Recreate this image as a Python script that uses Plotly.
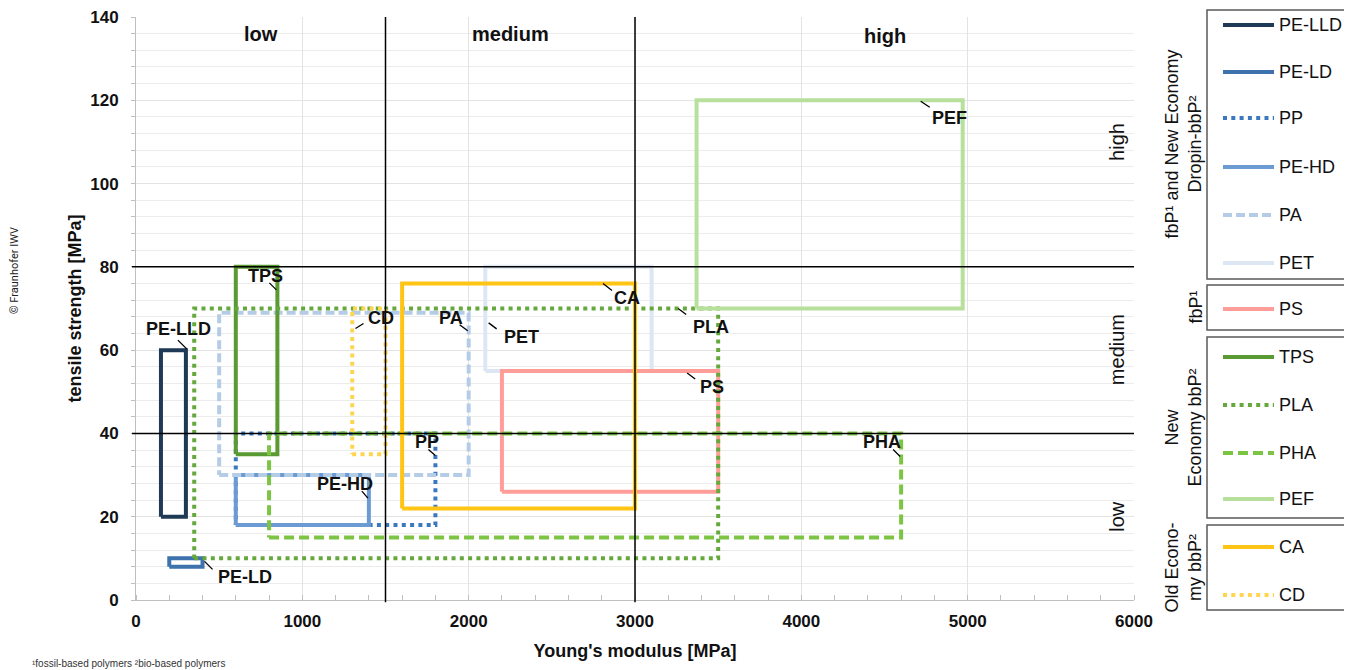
import plotly.graph_objects as go

# ---------------- data ----------------
materials = ["PE-LLD", "PE-LD", "PP", "PE-HD", "PA", "PET", "PS",
             "TPS", "PLA", "PHA", "PEF", "CA", "CD"]
modulus_min = [150, 200, 600, 600, 500, 2100, 2200, 600, 350, 800, 3370, 1600, 1300]
modulus_max = [300, 400, 1800, 1400, 2000, 3100, 3500, 850, 3500, 4600, 4970, 3000, 1500]
strength_min = [20, 8, 18, 18, 30, 55, 26, 35, 10, 15, 70, 22, 35]
strength_max = [60, 10, 40, 30, 69, 80, 55, 80, 70, 40, 120, 76, 70]

class_names = ["low", "medium", "high"]
modulus_bounds = [0, 1500, 3000, 6000]
strength_bounds = [0, 40, 80, 140]

legend_groups = [
    ("fbP¹ and New Economy<br>Dropin-bbP²", ["PE-LLD", "PE-LD", "PP", "PE-HD", "PA", "PET"]),
    ("fbP¹", ["PS"]),
    ("New<br>Economy bbP²", ["TPS", "PLA", "PHA", "PEF"]),
    ("Old Econo-<br>my bbP²", ["CA", "CD"]),
]

x_ticks = [0, 1000, 2000, 3000, 4000, 5000, 6000]
y_ticks = [0, 20, 40, 60, 80, 100, 120, 140]

# ---------------- styles ----------------
DOT = "4px,4.3px"
styles = {
    "PE-LLD": dict(color="#1e3a56", dash="solid"),
    "PE-LD": dict(color="#3e72ac", dash="solid"),
    "PP": dict(color="#3b78be", dash=DOT),
    "PE-HD": dict(color="#6b9bd2", dash="solid"),
    "PA": dict(color="#b5cce6", dash="9px,4px"),
    "PET": dict(color="#dde7f3", dash="solid"),
    "PS": dict(color="#ff9e99", dash="solid"),
    "TPS": dict(color="#5a9a32", dash="solid"),
    "PLA": dict(color="#65a83c", dash=DOT),
    "PHA": dict(color="#7cc443", dash="10px,5px"),
    "PEF": dict(color="#b7e09c", dash="solid"),
    "CA": dict(color="#ffc414", dash="solid"),
    "CD": dict(color="#ffd54f", dash=DOT),
}

# label placement relative to rectangle's upper-right corner (screen px, y down):
# leader start (far end), leader end (near label), text centre
label_place = {
    "PE-LLD": ((1, -1), (-8, -10), (-7, -20)),
    "TPS": ((-1, 23), (-8, 16), (-12, 10)),
    "CD": ((-30, 20), (-22, 15), (-5, 10)),
    "PA": ((-1, 18), (-9, 12), (-18, 6)),
    "PET": ((-163, 56), (-155, 62), (-130, 71)),
    "CA": ((-32, 0), (-23, 7), (-8, 15)),
    "PLA": ((-40, 0), (-32, 6), (-7, 19)),
    "PS": ((-31, 2), (-23, 8), (-6, 17)),
    "PP": ((0, 22), (-7, 16), (-8, 10)),
    "PE-HD": ((-1, 23), (-7, 16), (-24, 10)),
    "PE-LD": ((2, 3), (10, 11), (42, 20)),
    "PHA": ((-1, 23), (-8, 16), (-19, 10)),
    "PEF": ((-42, 1), (-33, 7), (-13, 19)),
}

OFF = 8                      # page offset of the figure inside the browser window
W, H = 1352 - OFF, 670 - OFF
Ls, Rs, Ts, Bs = 136, 1134, 17, 600   # plot area in screen pixels
L, R, T, B = Ls - OFF, Rs - OFF, Ts - OFF, Bs - OFF


def pxx(xs):
    return (xs - Ls) / (Rs - Ls)


def pxy(ys):
    return (Bs - ys) / (Bs - Ts)


FONT = "Liberation Sans, Arial, sans-serif"

fig = go.Figure()

# rectangles
for i, m in enumerate(materials):
    x0, x1 = modulus_min[i], modulus_max[i]
    y0, y1 = strength_min[i], strength_max[i]
    st = styles[m]
    fig.add_trace(go.Scatter(
        x=[x0, x1, x1, x0, x0], y=[y0, y0, y1, y1, y0],
        mode="lines", name=m, showlegend=False, hoverinfo="skip",
        line=dict(color=st["color"], width=4, dash=st["dash"]),
    ))

shapes = []
annotations = []

# class boundary lines
for xb in modulus_bounds[1:-1]:
    shapes.append(dict(type="line", xref="x", yref="paper", x0=xb, x1=xb, y0=-0.004, y1=1,
                       line=dict(color="black", width=1.5), layer="above"))
for yb in strength_bounds[1:-1]:
    shapes.append(dict(type="line", xref="paper", yref="y", x0=-0.004, x1=1, y0=yb, y1=yb,
                       line=dict(color="black", width=1.5), layer="above"))

# class labels
for k, name in enumerate(class_names):
    xc = (modulus_bounds[k] + modulus_bounds[k + 1]) / 2
    annotations.append(dict(x=xc, y=strength_bounds[-1], xref="x", yref="y", text=name,
                            showarrow=False, yshift=-17 if k < 2 else -19,
                            xanchor="center", yanchor="middle",
                            font=dict(family=FONT, size=20, weight="bold", color="#111")))
    yc = (strength_bounds[k] + strength_bounds[k + 1]) / 2
    annotations.append(dict(x=pxx(1117), y=yc, xref="paper", yref="y", text=name,
                            showarrow=False, textangle=-90, xanchor="center", yanchor="middle",
                            font=dict(family=FONT, size=20, color="#111")))

# data labels with leader lines
for i, m in enumerate(materials):
    (sx, sy), (ex, ey), (tx, ty) = label_place[m]
    cx, cy = modulus_max[i], strength_max[i]
    shapes.append(dict(type="line", xref="x", yref="y", xsizemode="pixel", ysizemode="pixel",
                       xanchor=cx, yanchor=cy, x0=sx, x1=ex, y0=-sy, y1=-ey,
                       line=dict(color="black", width=1.3), layer="above"))
    annotations.append(dict(x=cx, y=cy, xref="x", yref="y", text=m, showarrow=False,
                            xshift=tx, yshift=-ty + 1, xanchor="center", yanchor="middle",
                            font=dict(family=FONT, size=18, weight="bold", color="#111")))

# manual grouped legend
box_extents = [(10, 279), (285, 330), (337, 518), (525, 610)]
row_y = [25, 72, 118, 167, 215, 263, 309, 357, 405, 453, 499, 547, 595]
title_x = [1183, 1195, 1183, 1183]
r = 0
for g, (title, members) in enumerate(legend_groups):
    top, bot = box_extents[g]
    shapes.append(dict(type="rect", xref="paper", yref="paper",
                       x0=pxx(1207), x1=pxx(1349), y0=pxy(bot), y1=pxy(top),
                       line=dict(color="#595959", width=1.5)))
    annotations.append(dict(x=pxx(title_x[g]), y=pxy((top + bot) / 2), xref="paper", yref="paper",
                            text=title, showarrow=False, textangle=-90,
                            xanchor="center", yanchor="middle",
                            font=dict(family=FONT, size=18, color="#111")))
    for m in members:
        yy = row_y[r]
        st = styles[m]
        shapes.append(dict(type="line", xref="paper", yref="paper",
                           x0=pxx(1223), x1=pxx(1274), y0=pxy(yy), y1=pxy(yy),
                           line=dict(color=st["color"], width=4, dash=st["dash"])))
        annotations.append(dict(x=pxx(1277), y=pxy(yy), xref="paper", yref="paper", text=m,
                                showarrow=False, xanchor="left", yanchor="middle",
                                font=dict(family=FONT, size=18, color="#111")))
        r += 1

# copyright and footnote
annotations.append(dict(x=pxx(14), y=pxy(271), xref="paper", yref="paper",
                        text="© Fraunhofer IWV", showarrow=False, textangle=-90,
                        xanchor="center", yanchor="middle",
                        font=dict(family="Liberation Sans Narrow, Roboto, sans-serif", size=11, color="#222")))
annotations.append(dict(x=pxx(30), y=pxy(663), xref="paper", yref="paper",
                        xanchor="left", yanchor="middle",
                        text="¹fossil-based polymers ²bio-based polymers", showarrow=False,
                        font=dict(family=FONT, size=10, color="#333")))

fig.update_layout(
    width=W, height=H,
    margin=dict(l=L, r=W - R, t=T, b=H - B, autoexpand=False),
    plot_bgcolor="white", paper_bgcolor="white",
    font=dict(family=FONT, color="#111"),
    shapes=shapes, annotations=annotations,
    xaxis=dict(
        range=[0, 6000], tickvals=x_ticks, showgrid=True, gridcolor="#e3e3e3", gridwidth=1,
        zeroline=False, showline=True, linecolor="#bfbfbf", linewidth=1,
        ticks="", ticklabelstandoff=6, automargin=False, ticklabeloverflow="allow",
        tickfont=dict(family=FONT, size=17, weight="bold", color="#111"),
        title=dict(text="Young's modulus [MPa]", standoff=13,
                   font=dict(family=FONT, size=18, weight="bold", color="#111")),
        minor=dict(dtick=200, ticks="inside", ticklen=5, tickcolor="#bfbfbf", showgrid=False),
    ),
    yaxis=dict(
        range=[0, 140], tickvals=y_ticks, showgrid=True, gridcolor="#e3e3e3", gridwidth=1,
        zeroline=False, showline=True, linecolor="#bfbfbf", linewidth=1,
        ticks="", ticklabelstandoff=13, automargin=False, ticklabeloverflow="allow",
        tickfont=dict(family=FONT, size=17, weight="bold", color="#111"),
        title=dict(text="tensile strength [MPa]", standoff=3,
                   font=dict(family=FONT, size=18, weight="bold", color="#111")),
        minor=dict(dtick=4, ticks="outside", ticklen=4, tickcolor="#bfbfbf",
                   showgrid=True, gridcolor="#ececec"),
    ),
)

fig.write_html("out.html")
